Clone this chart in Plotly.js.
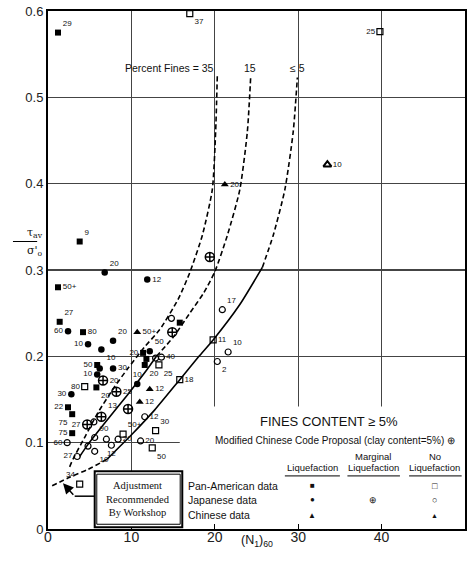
<!DOCTYPE html>
<html><head><meta charset="utf-8">
<script src="https://cdn.plot.ly/plotly-3.0.1.min.js"></script>
<style>html,body{margin:0;padding:0;background:#fff}#chart{width:467px;height:565px}</style>
</head><body><div id="chart"></div>
<script>
// ---- curves (Percent Fines = 35, 15, <=5) ----
const c35X = [2.6, 3.0, 4.5, 6.0, 8.0, 9.5, 11.5, 13.4, 15.6, 17.0, 18.5, 19.7, 20.1, 20.3];
const c35Y = [0.072, 0.081, 0.108, 0.135, 0.165, 0.185, 0.210, 0.231, 0.266, 0.297, 0.340, 0.393, 0.460, 0.525];
const c15SolidX = [3.8, 4.8, 7.0, 9.5, 11.9, 13.0];
const c15SolidY = [0.084, 0.098, 0.125, 0.155, 0.185, 0.200];
const c15DashX = [13.0, 15.0, 17.0, 18.7, 20.0, 21.5, 23.0, 23.9, 24.3];
const c15DashY = [0.200, 0.222, 0.250, 0.274, 0.298, 0.340, 0.393, 0.460, 0.523];
const c5LowX = [0.5, 2.6, 4.8, 7.1];
const c5LowY = [0.050, 0.060, 0.069, 0.081];
const c5SolidX = [7.1, 10.1, 12.8, 15.8, 18.1, 19.8, 23.0, 25.7];
const c5SolidY = [0.081, 0.110, 0.138, 0.173, 0.200, 0.219, 0.260, 0.303];
const c5UpX = [25.7, 27.0, 28.4, 29.4, 29.9];
const c5UpY = [0.303, 0.340, 0.393, 0.460, 0.523];

// ---- data points: x = (N1)60, y = tav/s'o, label = fines content ----
const panLiqX = [1.2, 3.8, 1.2, 1.4, 4.2, 2.4, 2.9, 2.9, 5.8, 5.9, 11.4, 11.8, 11.6, 15.8];
const panLiqY = [0.575, 0.333, 0.280, 0.240, 0.228, 0.141, 0.133, 0.111, 0.164, 0.190, 0.204, 0.197, 0.190, 0.239];
const panLiqL = ["29","9","50+","27","80","22","75","75","20","50","20","","20",""];

const japLiqX = [6.8, 11.9, 2.4, 4.8, 7.8, 6.4, 6.2, 5.9, 7.8, 2.8, 10.7, 12.2];
const japLiqY = [0.297, 0.289, 0.229, 0.214, 0.218, 0.208, 0.186, 0.179, 0.186, 0.156, 0.168, 0.206];
const japLiqL = ["20","12","60","10","20","10","","10","30","30","10","50"];

const japMargX = [19.4, 14.9, 9.6, 6.6, 4.7, 6.4, 8.2];
const japMargY = [0.315, 0.228, 0.139, 0.172, 0.121, 0.130, 0.159];
const japMargL = ["","","","20","27","13","25"];

const japNoX = [20.9, 21.6, 20.3, 14.8, 12.9, 13.6, 2.3, 3.5, 4.8, 5.6, 5.6, 7.0, 7.6, 8.4, 11.1, 11.6, 5.5];
const japNoY = [0.254, 0.205, 0.194, 0.244, 0.198, 0.199, 0.100, 0.084, 0.096, 0.090, 0.106, 0.104, 0.097, 0.104, 0.102, 0.130, 0.124];
const japNoL = ["17","10","2","","","40","60","27","","10","90","","12","20","20","12",""];

const panNoX = [17.0, 39.8, 19.8, 15.8, 12.9, 12.5, 3.8, 13.3, 4.4, 9.0];
const panNoY = [0.597, 0.576, 0.219, 0.173, 0.114, 0.094, 0.052, 0.190, 0.165, 0.110];
const panNoL = ["37","25","11","18","30","50","34","25","80","50+"];

const chiLiqX = [21.2, 10.7, 12.2, 11.0];
const chiLiqY = [0.399, 0.228, 0.162, 0.147];
const chiLiqL = ["20","50+","12","12"];

const chiNoX = [33.5];
const chiNoY = [0.422];
const chiNoL = ["10"];

// tick labels
const xTicks = [0, 10, 20, 30, 40, 50];
const yTicks = [0, 0.1, 0.2, 0.3, 0.4, 0.5, 0.6];

// ---- label placement (style) ----
const panLiqP = ["top right","top right","middle right","top right","middle right","middle left","bottom left","middle left","bottom right","middle left","middle left","middle right","bottom right","middle right"];
const japLiqP = ["top right","middle right","middle left","middle left","top right","bottom right","middle right","middle left","middle right","middle left","top center","top right"];
const japMargP = ["middle right","middle right","middle right","middle right","middle left","top right","middle right"];
const japNoP = ["top right","top right","bottom right","middle right","middle right","middle right","middle left","middle left","middle right","bottom right","top right","middle right","bottom center","middle right","middle right","middle right","middle right"];
const panNoP = ["bottom right","middle left","middle right","middle right","top right","bottom right","top left","bottom right","middle left","top right"];
const chiLiqP = ["middle right","middle right","middle right","middle right"];
const chiNoP = ["middle right"];

const lblFont = {family: "Liberation Sans, Arial, sans-serif", size: 8, color: "#111"};

function pts(x, y, t, p, symbol, size, lw) {
  return {type: "scatter", mode: "markers+text", x: x, y: y, text: t, textposition: p,
    textfont: lblFont, cliponaxis: false, hoverinfo: "skip",
    marker: {symbol: symbol, size: size, color: "#000", line: {color: "#000", width: lw}}};
}
function curve(x, y, dash) {
  return {type: "scatter", mode: "lines", x: x, y: y, hoverinfo: "skip",
    line: {color: "#000", width: 1.6, dash: dash, shape: "spline", smoothing: 0.6}};
}
const dashPat = "5px,3px";

const traces = [
  curve(c35X, c35Y, dashPat),
  curve(c15SolidX, c15SolidY, "solid"),
  curve(c15DashX, c15DashY, dashPat),
  curve(c5LowX, c5LowY, dashPat),
  curve(c5SolidX, c5SolidY, "solid"),
  curve(c5UpX, c5UpY, dashPat),
  pts(panLiqX, panLiqY, panLiqL, panLiqP, "square", 6, 0),
  pts(japLiqX, japLiqY, japLiqL, japLiqP, "circle", 6.5, 0),
  pts(japMargX, japMargY, japMargL, japMargP, "circle-cross-open", 9, 1.5),
  pts(japNoX, japNoY, japNoL, japNoP, "circle-open", 6, 1.2),
  pts(panNoX, panNoY, panNoL, panNoP, "square-open", 6, 1.2),
  pts(chiLiqX, chiLiqY, chiLiqL, chiLiqP, "triangle-up", 7, 0),
  pts(chiNoX, chiNoY, chiNoL, chiNoP, "triangle-up-open", 7, 2)
];

const sans = "Liberation Sans, Arial, sans-serif";
function note(x, y, text, size, opts) {
  return Object.assign({x: x, y: y, xref: "x", yref: "y", text: text, showarrow: false,
    font: {family: sans, size: size, color: "#111"}}, opts || {});
}

const annotations = [
  note(20.2, 0.534, "Percent Fines = 35", 10.5, {xanchor: "right"}),
  note(24.2, 0.534, "15", 10.5),
  note(29.9, 0.534, "≤ 5", 10.5),
  note(33.7, 0.124, "FINES CONTENT ≥ 5%", 13),
  note(34.4, 0.102, "Modified Chinese Code Proposal (clay content=5%) ⊕", 10),
  note(31.7, 0.071, "Liquefaction", 9.5),
  note(39.0, 0.084, "Marginal", 9.5),
  note(39.0, 0.071, "Liquefaction", 9.5),
  note(46.4, 0.084, "No", 9.5),
  note(46.4, 0.071, "Liquefaction", 9.5),
  note(16.6, 0.050, "Pan-American data", 10.5, {xanchor: "left"}),
  note(16.6, 0.034, "Japanese data", 10.5, {xanchor: "left"}),
  note(16.6, 0.016, "Chinese data", 10.5, {xanchor: "left"}),
  note(31.7, 0.050, "■", 8), note(46.4, 0.050, "□", 9),
  note(31.7, 0.034, "●", 8), note(39.0, 0.034, "⊕", 9), note(46.4, 0.034, "○", 9),
  note(31.7, 0.016, "▲", 8), note(46.4, 0.016, "▲", 7),
  note(10.85, 0.035, "Adjustment<br>Recommended<br>By Workshop", 10.5,
    {font: {family: "Liberation Serif, Times New Roman, serif", size: 10.5, color: "#111"}}),
  {x: 1.8, y: 0.053, xref: "x", yref: "y", ax: 3.2, ay: 0.038, axref: "x", ayref: "y",
   showarrow: true, arrowhead: 2, arrowsize: 1.4, arrowwidth: 1.5, arrowcolor: "#000", text: ""},
  {x: 25, y: -0.043, xref: "x", yref: "paper", text: "(N<sub>1</sub>)<sub>60</sub>", showarrow: false,
   font: {family: sans, size: 12.5, color: "#111"}},
  {x: -0.055, y: 0.343, xref: "paper", yref: "y", text: "τ<sub>av</sub>", showarrow: false,
   font: {family: "DejaVu Serif, serif", size: 11, color: "#111"}},
  {x: -0.055, y: 0.322, xref: "paper", yref: "y", text: "σ'<sub>o</sub>", showarrow: false,
   font: {family: "DejaVu Serif, serif", size: 11, color: "#111"}}
];

const shapes = [
  {type: "rect", xref: "x", yref: "y", x0: 15.8, x1: 50, y0: 0, y1: 0.142, layer: "between",
   fillcolor: "#fff", line: {width: 0}},
  {type: "rect", xref: "x", yref: "y", x0: 5.6, x1: 16.1, y0: 0.002, y1: 0.067, layer: "above",
   fillcolor: "#fff", line: {color: "#000", width: 2}},
  {type: "rect", xref: "x", yref: "y", x0: 5.85, x1: 15.85, y0: 0.0055, y1: 0.0635, layer: "above",
   fillcolor: "rgba(0,0,0,0)", line: {color: "#000", width: 1}},
  {type: "line", xref: "x", yref: "y", x0: 3.2, x1: 5.6, y0: 0.038, y1: 0.038, line: {color: "#000", width: 1.5}},
  {type: "line", xref: "x", yref: "y", x0: 28.4, x1: 35.0, y0: 0.0615, y1: 0.0615, line: {color: "#000", width: 1}},
  {type: "line", xref: "x", yref: "y", x0: 35.9, x1: 42.2, y0: 0.0615, y1: 0.0615, line: {color: "#000", width: 1}},
  {type: "line", xref: "x", yref: "y", x0: 43.3, x1: 49.6, y0: 0.0615, y1: 0.0615, line: {color: "#000", width: 1}},
  {type: "line", xref: "paper", yref: "y", x0: -0.084, x1: -0.026, y0: 0.333, y1: 0.333, line: {color: "#000", width: 1}}
];

const layout = {
  width: 467, height: 565,
  margin: {l: 48, r: 2, t: 11, b: 36, pad: 0},
  paper_bgcolor: "#fff", plot_bgcolor: "#fff",
  showlegend: false,
  font: {family: sans, color: "#111"},
  xaxis: {range: [0, 50], tickvals: xTicks, ticktext: xTicks.map(String), showgrid: true,
    gridcolor: "#444", gridwidth: 1.2, zeroline: false, showline: true, mirror: true,
    linecolor: "#000", linewidth: 2, ticks: "inside", ticklen: 5, tickcolor: "#000",
    ticklabelstandoff: -6,
    tickfont: {family: sans, size: 14, color: "#222"}},
  yaxis: {range: [0, 0.6], tickvals: yTicks, ticktext: yTicks.map(String), showgrid: true,
    gridcolor: "#444", gridwidth: 1.2, zeroline: false, showline: true, mirror: true,
    linecolor: "#000", linewidth: 2, ticks: "",
    tickfont: {family: sans, size: 13, color: "#222"}},
  annotations: annotations,
  shapes: shapes
};

Plotly.newPlot("chart", traces, layout, {displayModeBar: false, staticPlot: true});
</script>
</body></html>
